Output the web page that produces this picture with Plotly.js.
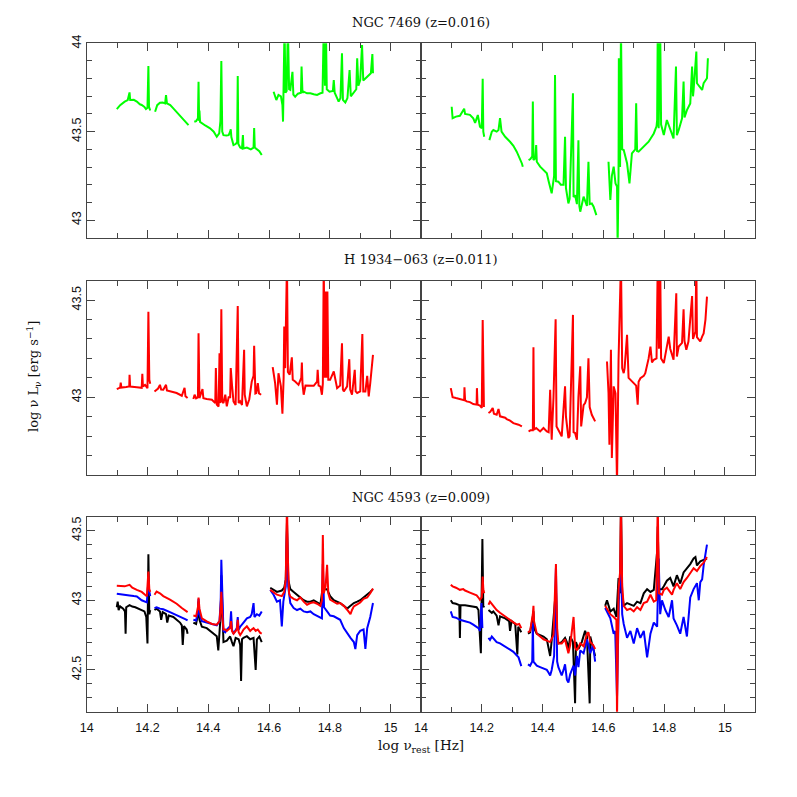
<!DOCTYPE html>
<html>
<head>
<meta charset="utf-8">
<script src="https://cdn.plot.ly/plotly-3.0.1.min.js"></script>
<style>html,body{margin:0;padding:0;background:#fff;}#chart{width:797px;height:797px;}</style>
</head>
<body>
<div id="chart"></div>
<script>
// ---------------- DATA (log nu_rest [Hz], log nu L_nu [erg/s]) ----------------
const rowTitles = ["NGC 7469 (z=0.016)", "H 1934\u2212063 (z=0.011)", "NGC 4593 (z=0.009)"];

// NGC 7469 - left panel (green)
const n7469L_x = [14.099,14.110,14.125,14.135,14.141,14.143,14.155,14.165,14.175,14.181,14.190,14.195,14.200,14.203,14.205,14.209,null,
14.225,14.232,14.241,14.250,14.258,14.261,14.264,14.275,14.285,14.296,14.307,14.315,14.324,14.330,14.335,null,
14.354,14.360,14.366,14.368,14.370,14.371,14.373,14.379,14.390,14.406,14.418,14.428,14.436,14.440,14.443,14.446,14.450,14.460,14.467,14.472,14.474,14.476,14.483,14.490,14.495,14.497,14.499,14.505,14.511,14.514,14.516,14.527,14.540,14.549,14.551,14.553,14.560,14.568,14.576,null,
14.615,14.620,14.624,14.631,14.639,14.644,14.646,14.651,14.654,14.658,14.662,14.666,14.670,14.677,14.680,14.686,14.695,14.705,14.707,14.710,14.714,14.725,14.736,14.747,14.758,14.769,14.776,14.780,14.784,14.787,14.790,14.799,14.810,14.813,14.816,14.824,14.829,14.835,14.840,14.843,14.851,14.858,14.865,14.869,14.879,14.887,14.890,14.894,14.900,14.906,14.910,14.923,14.935,14.940,14.942];
const n7469L_y = [43.628,43.650,43.670,43.679,43.722,43.679,43.680,43.670,43.655,43.651,43.640,43.628,43.635,43.871,43.640,43.620,null,
43.613,43.650,43.664,43.665,43.660,43.707,43.660,43.650,43.632,43.610,43.589,43.575,43.557,43.545,43.537,null,
43.556,43.560,43.575,43.783,43.560,43.620,43.555,43.547,43.535,43.519,43.500,43.471,43.490,43.560,43.900,43.500,43.480,43.478,43.480,43.500,43.513,43.470,43.424,43.430,43.440,43.815,43.430,43.410,43.405,43.481,43.405,43.410,43.400,43.410,43.520,43.410,43.400,43.390,43.368,null,
43.726,43.700,43.679,43.708,43.700,43.650,43.557,44.1,43.720,43.730,44.1,43.740,43.736,43.839,43.710,43.698,43.715,43.720,43.868,43.720,43.726,43.717,43.717,43.712,43.708,43.717,43.720,44.1,43.760,44.1,43.740,43.726,43.730,43.792,43.720,43.690,43.670,43.690,43.943,43.680,43.665,43.690,43.849,43.700,43.726,43.740,43.915,43.760,43.792,43.99,43.790,43.811,43.830,43.939,43.830];

// NGC 7469 - right panel (green)
const n7469R_x = [14.101,14.104,14.115,14.128,14.142,14.145,14.161,14.172,14.178,14.187,14.194,14.200,14.203,14.205,14.208,null,
14.225,14.233,14.238,14.249,14.255,14.260,14.265,14.277,14.293,14.304,14.315,14.325,14.332,14.335,null,
14.354,14.360,14.366,14.368,14.370,14.376,14.379,14.381,14.392,14.403,14.414,14.420,14.425,14.430,14.438,14.441,14.444,14.452,14.460,14.469,14.474,14.477,14.485,14.489,14.500,14.502,14.507,14.513,14.518,14.521,14.524,14.535,14.546,14.551,14.555,14.562,14.568,14.577,null,
14.617,14.620,14.623,14.628,14.634,14.640,14.645,14.647,14.650,14.651,14.655,14.658,14.662,14.667,14.678,14.683,14.686,14.694,14.705,14.708,14.711,14.716,14.733,14.749,14.766,14.775,14.777,14.779,14.782,14.787,14.790,14.799,14.809,14.820,14.831,14.839,14.842,14.848,14.859,14.864,14.867,14.875,14.886,14.892,14.895,14.897,14.906,14.908,14.919,14.925,14.930,14.941,14.944];
const n7469R_y = [43.641,43.576,43.585,43.590,43.630,43.600,43.595,43.575,43.550,43.594,43.528,43.520,43.800,43.500,43.471,null,
43.452,43.500,43.509,43.500,43.509,43.576,43.500,43.471,43.443,43.420,43.387,43.350,43.320,43.302,null,
43.339,43.345,43.360,43.670,43.340,43.349,43.424,43.330,43.302,43.285,43.264,43.220,43.190,43.151,43.250,43.820,43.220,43.217,43.200,43.200,43.471,43.180,43.094,43.120,43.717,43.130,43.141,43.090,43.452,43.080,43.047,43.132,43.080,43.330,43.090,43.094,43.075,43.028,null,
43.330,43.226,43.113,43.250,43.302,43.207,43.190,42.85,43.250,43.915,43.300,44.1,43.400,43.396,43.321,43.250,43.207,43.377,43.400,43.660,43.390,43.387,43.415,43.443,43.490,43.530,43.566,44.1,43.520,44.1,43.540,43.481,43.566,43.509,43.462,43.868,43.480,43.509,43.576,43.783,43.580,43.622,43.660,43.868,43.700,43.736,43.953,43.774,43.750,43.736,43.774,43.802,43.915];

// H 1934-063 - left panel (red)
const h1934L_x = [14.099,14.110,14.112,14.114,14.130,14.140,14.141,14.143,14.165,14.181,14.183,14.185,14.192,14.200,14.203,14.206,14.209,null,
14.223,14.230,14.235,14.241,14.245,14.252,14.261,14.264,14.274,14.296,14.313,14.322,14.325,14.332,null,
14.351,14.355,14.360,14.366,14.368,14.371,14.381,14.384,14.395,14.412,14.423,14.425,14.428,14.434,14.437,14.440,14.443,14.446,14.450,14.456,14.461,14.467,14.472,14.474,14.478,14.483,14.490,14.497,14.500,14.505,14.511,14.518,14.520,14.527,14.535,14.543,14.549,14.551,14.555,14.558,14.563,14.567,14.574,null,
14.612,14.620,14.626,14.631,14.639,14.644,14.648,14.650,14.653,14.659,14.662,14.668,14.675,14.678,14.686,14.697,14.706,14.708,14.710,14.714,14.720,14.730,14.747,14.758,14.760,14.763,14.769,14.774,14.777,14.780,14.783,14.787,14.789,14.792,14.795,14.801,14.813,14.824,14.834,14.840,14.843,14.846,14.857,14.864,14.867,14.873,14.882,14.885,14.890,14.900,14.907,14.910,14.917,14.923,14.925,14.928,14.933,14.942];
const h1934L_y = [43.042,43.050,43.075,43.050,43.053,43.056,43.116,43.055,43.052,43.049,43.121,43.056,43.064,43.047,43.440,43.090,43.070,null,
43.030,43.039,43.045,43.064,43.040,43.039,43.064,43.035,43.030,43.022,43.008,43.049,43.005,42.996,null,
42.991,43.013,42.995,43.000,43.329,42.996,43.042,42.995,42.991,42.987,42.970,43.150,42.962,42.953,43.227,42.970,43.453,42.980,42.970,43.013,42.953,43.000,43.000,43.150,43.064,42.979,42.960,43.470,42.970,42.979,42.960,43.244,43.013,42.953,42.990,43.080,43.110,43.265,43.020,43.022,43.073,43.020,43.013,null,
43.155,43.073,42.962,43.124,43.056,42.916,43.100,43.364,43.150,43.7,43.130,43.116,43.206,43.090,43.081,43.064,43.100,43.179,43.070,43.013,43.060,43.059,43.059,43.080,43.141,43.060,43.056,43.013,43.070,43.7,43.100,43.544,43.100,43.544,43.090,43.090,43.133,43.047,43.060,43.278,43.040,43.030,43.056,43.196,43.040,43.013,43.141,43.030,43.022,43.030,43.326,43.030,43.030,43.110,43.030,43.005,43.073,43.218];

// H 1934-063 - right panel (red)
const h1934R_x = [14.098,14.104,14.115,14.128,14.142,14.143,14.145,14.150,14.161,14.172,14.183,14.184,14.186,14.194,14.200,14.203,14.205,14.207,null,
14.222,14.228,14.236,14.240,14.249,14.255,14.260,14.277,14.282,14.293,14.304,14.315,14.321,14.332,null,
14.354,14.360,14.368,14.370,14.372,14.376,14.379,14.392,14.403,14.414,14.420,14.425,14.428,14.430,14.436,14.438,14.443,14.446,14.452,14.463,14.474,14.477,14.485,14.489,14.500,14.502,14.507,14.513,14.518,14.524,14.527,14.535,14.540,14.546,14.551,14.555,14.562,14.566,14.573,null,
14.612,14.617,14.620,14.623,14.625,14.628,14.634,14.640,14.645,14.650,14.658,14.662,14.667,14.670,14.678,14.683,14.689,14.700,14.708,14.713,14.716,14.722,14.733,14.738,14.749,14.755,14.760,14.766,14.775,14.779,14.783,14.787,14.790,14.799,14.809,14.815,14.820,14.831,14.840,14.842,14.848,14.859,14.864,14.867,14.873,14.880,14.892,14.895,14.903,14.906,14.908,14.919,14.925,14.930,14.936,14.941];
const h1934R_y = [43.047,43.001,42.996,42.991,42.985,43.051,42.985,42.979,42.975,42.965,42.962,43.047,42.962,42.957,42.945,43.398,42.990,42.950,null,
42.919,42.925,42.945,42.915,42.910,42.940,42.902,42.895,42.888,42.880,42.867,42.862,42.859,42.850,null,
42.824,42.830,42.830,43.258,42.833,42.842,42.842,42.824,42.842,42.824,42.820,43.039,42.790,42.782,43.000,43.141,43.402,42.850,42.833,42.799,43.056,42.900,42.790,42.800,43.424,42.820,42.816,42.782,43.000,43.159,42.850,42.960,42.970,43.000,43.201,42.950,42.910,42.900,42.876,null,
43.184,43.022,42.756,43.000,43.244,42.688,43.056,43.020,42.55,43.193,43.7,43.150,43.124,43.150,43.321,43.100,43.090,43.073,43.060,42.962,43.080,43.098,43.110,43.124,43.200,43.261,43.180,43.193,43.200,43.7,43.250,43.7,43.200,43.176,43.261,43.312,43.250,43.193,43.535,43.210,43.261,43.280,43.453,43.290,43.244,43.287,43.521,43.300,43.338,43.7,43.310,43.287,43.312,43.329,43.400,43.518];

// NGC 4593 - left panel
const n4593L_red_x = [14.099,14.110,14.125,14.141,14.150,14.165,14.181,14.192,14.198,14.203,14.206,14.209,null,
14.223,14.230,14.241,14.252,14.274,14.296,14.313,14.324,14.332,null,
14.351,14.360,14.366,14.368,14.371,14.379,14.395,14.412,14.428,14.437,14.441,14.443,14.446,14.450,14.456,14.461,14.472,14.475,14.478,14.483,14.494,14.497,14.500,14.505,14.511,14.516,14.527,14.538,14.543,14.549,14.556,14.563,14.571,14.576,null,
14.604,14.615,14.626,14.642,14.650,14.655,14.659,14.662,14.666,14.670,14.681,14.692,14.703,14.714,14.725,14.736,14.747,14.758,14.769,14.774,14.777,14.780,14.786,14.791,14.795,14.801,14.813,14.824,14.834,14.846,14.857,14.868,14.873,14.879,14.890,14.900,14.911,14.923,14.933,14.942];
const n4593L_red_y = [43.104,43.104,43.100,43.111,43.090,43.075,43.060,43.040,43.030,43.207,43.080,43.060,null,
43.040,43.063,43.050,43.030,43.004,42.975,42.944,42.930,42.915,null,
42.890,42.885,42.950,43.020,42.940,42.870,42.849,42.830,42.825,42.850,42.960,43.060,42.900,42.790,42.790,42.780,42.801,42.850,42.780,42.760,42.790,42.860,42.770,42.750,42.770,42.790,42.813,42.780,42.790,42.800,42.780,42.790,42.766,42.760,null,
43.075,43.060,43.040,43.030,43.060,43.150,43.7,43.300,43.050,43.027,43.010,43.000,43.020,42.990,42.968,42.980,42.985,42.975,42.960,43.000,43.469,43.050,43.100,43.254,43.050,43.004,42.990,42.975,42.980,42.960,42.932,42.900,42.930,42.956,42.970,42.985,43.010,43.020,43.050,43.085];

const n4593L_blue_x = [14.099,14.110,14.125,14.141,14.155,14.165,14.181,14.192,14.198,14.202,14.206,14.209,null,
14.223,14.230,14.241,14.252,14.274,14.296,14.313,14.324,14.332,null,
14.351,14.360,14.366,14.368,14.371,14.379,14.395,14.412,14.428,14.437,14.441,14.443,14.446,14.450,14.456,14.461,14.472,14.475,14.478,14.483,14.494,14.497,14.500,14.505,14.516,14.527,14.538,14.543,14.549,14.552,14.560,14.568,14.576,null,
14.604,14.615,14.626,14.636,14.642,14.647,14.655,14.659,14.663,14.670,14.681,14.692,14.703,14.714,14.725,14.736,14.747,14.758,14.769,14.774,14.777,14.781,14.791,14.801,14.813,14.824,14.834,14.846,14.857,14.868,14.879,14.884,14.890,14.900,14.911,14.917,14.923,14.933,14.942];
const n4593L_blue_y = [43.047,43.045,43.040,43.035,43.030,43.027,43.000,42.990,42.985,43.111,43.040,43.030,null,
42.944,42.950,42.940,42.935,42.915,42.895,42.880,42.865,42.855,null,
42.860,42.855,42.920,43.010,42.900,42.850,42.840,42.830,42.820,42.850,43.000,43.290,43.000,42.780,42.770,42.790,42.813,42.920,42.790,42.760,42.800,42.880,42.790,42.810,42.840,42.870,42.880,42.900,42.980,42.880,42.900,42.890,42.920,null,
43.075,43.040,42.990,43.000,42.813,42.990,43.100,43.500,43.100,42.980,42.944,42.930,42.940,42.920,42.915,42.920,42.900,42.890,42.880,42.870,43.260,42.950,42.920,42.890,42.885,42.870,42.860,42.800,42.760,42.730,42.700,42.650,42.750,42.780,42.790,42.650,42.800,42.880,42.980];

const n4593L_black_x = [14.099,14.102,14.105,14.110,14.120,14.126,14.128,14.130,14.141,14.150,14.160,14.170,14.181,14.190,14.196,14.200,14.203,14.206,14.209,null,
14.223,14.230,14.241,14.245,14.250,14.261,14.265,14.270,14.285,14.296,14.307,14.313,14.316,14.320,14.329,14.332,null,
14.351,14.360,14.366,14.368,14.371,14.379,14.395,14.406,14.420,14.428,14.433,14.437,14.441,14.443,14.446,14.450,14.461,14.472,14.478,14.483,14.490,14.500,14.505,14.508,14.511,14.516,14.527,14.538,14.549,14.556,14.560,14.568,14.576,null,
14.604,14.615,14.626,14.642,14.650,14.655,14.659,14.663,14.670,14.681,14.692,14.703,14.714,14.725,14.736,14.747,14.758,14.769,14.777,14.786,14.791,14.801,14.813,14.824,14.834,14.846,14.857,14.868,14.879,14.890,14.900,14.911,14.923,14.933,14.942];
const n4593L_black_y = [42.950,42.990,42.930,42.956,42.940,42.920,42.760,42.950,42.965,42.955,42.950,42.940,42.930,42.920,42.880,42.690,43.330,42.900,42.930,null,
42.930,42.940,42.920,42.860,42.915,42.900,42.840,42.890,42.880,42.860,42.840,42.820,42.680,42.815,42.790,42.760,null,
42.840,42.830,42.900,42.990,42.860,42.810,42.800,42.780,42.760,42.742,42.640,42.760,42.900,43.180,42.900,42.700,42.710,42.740,42.700,42.670,42.730,42.720,42.680,42.420,42.720,42.730,42.742,42.720,42.730,42.500,42.720,42.740,42.700,null,
43.090,43.075,43.060,43.070,43.090,43.150,43.560,43.150,43.080,43.060,43.040,43.020,43.000,42.990,42.990,43.000,42.985,42.970,43.100,43.080,43.080,43.030,43.000,42.990,42.980,42.960,42.940,42.960,42.980,42.990,43.000,43.020,43.040,43.060,43.080];

// NGC 4593 - right panel
const n4593R_red_x = [14.098,14.104,14.115,14.128,14.139,14.145,14.161,14.172,14.183,14.189,14.194,14.200,14.203,14.205,14.208,null,
14.222,14.227,14.238,14.249,14.260,14.277,14.293,14.304,14.315,14.323,14.330,null,
14.352,14.359,14.368,14.370,14.372,14.381,14.392,14.403,14.414,14.425,14.436,14.444,14.448,14.452,14.463,14.474,14.477,14.485,14.491,14.502,14.507,14.513,14.524,14.535,14.546,14.551,14.557,14.566,14.573,null,
14.606,14.612,14.623,14.634,14.643,14.645,14.647,14.650,14.655,14.658,14.662,14.667,14.678,14.689,14.700,14.711,14.722,14.733,14.744,14.755,14.766,14.774,14.779,14.783,14.793,14.799,14.809,14.820,14.826,14.831,14.842,14.853,14.864,14.875,14.886,14.897,14.908,14.919,14.930,14.941];
const n4593R_red_y = [43.111,43.100,43.090,43.075,43.080,43.070,43.055,43.045,43.035,43.020,43.004,43.020,43.170,43.080,43.050,null,
42.968,42.990,42.960,42.930,42.910,42.885,42.860,42.840,42.825,42.830,42.800,null,
42.770,42.780,42.900,42.960,42.850,42.760,42.740,42.720,42.710,42.700,42.750,43.260,42.800,42.690,42.690,42.720,42.690,42.620,42.680,42.880,42.660,42.640,42.690,42.670,42.760,42.770,42.700,42.680,42.650,null,
42.960,42.940,42.900,42.880,42.860,42.150,42.880,43.080,43.200,43.7,43.100,42.960,42.930,42.940,42.920,42.950,42.930,42.980,42.990,43.040,42.990,43.000,43.7,43.050,43.040,43.075,43.090,43.060,43.040,43.075,43.123,43.080,43.130,43.160,43.200,43.230,43.210,43.245,43.270,43.311];

const n4593R_blue_x = [14.098,14.104,14.115,14.128,14.145,14.161,14.172,14.183,14.189,14.194,14.199,14.202,null,
14.222,14.227,14.233,14.249,14.260,14.277,14.293,14.304,14.315,14.321,14.330,null,
14.352,14.359,14.366,14.368,14.370,14.381,14.392,14.403,14.414,14.420,14.425,14.430,14.438,14.444,14.448,14.452,14.463,14.469,14.474,14.480,14.485,14.491,14.502,14.507,14.513,14.518,14.524,14.535,14.546,14.557,14.566,14.573,null,
14.606,14.612,14.623,14.634,14.639,14.645,14.648,14.651,14.658,14.662,14.667,14.678,14.689,14.700,14.711,14.722,14.733,14.744,14.755,14.766,14.777,14.782,14.787,14.793,14.804,14.815,14.826,14.831,14.842,14.853,14.864,14.875,14.886,14.897,14.908,14.914,14.919,14.925,14.930,14.936,14.941];
const n4593R_blue_y = [42.920,42.880,42.875,42.860,42.850,42.840,42.825,42.810,42.800,42.780,42.980,42.800,null,
42.730,42.715,42.740,42.700,42.690,42.670,42.645,42.630,42.600,42.590,42.527,null,
42.540,42.530,42.560,42.840,42.560,42.530,42.520,42.510,42.500,42.480,42.460,42.500,42.600,43.230,42.560,42.520,42.460,42.500,42.540,42.430,42.410,42.470,42.530,42.460,42.600,42.520,42.640,42.620,42.720,42.620,42.680,42.560,null,
42.944,42.920,42.870,42.760,42.780,42.300,42.850,42.990,43.330,42.900,42.830,42.730,42.780,42.690,42.800,42.730,42.780,42.590,42.760,42.840,42.810,43.300,42.900,43.000,42.930,42.880,43.000,42.870,42.820,42.760,42.880,42.740,43.020,43.080,43.123,43.000,43.130,43.150,43.250,43.320,43.400];

const n4593R_black_x = [14.098,14.104,14.115,14.126,14.128,14.130,14.145,14.161,14.172,14.183,14.189,14.197,14.199,14.202,14.205,14.208,null,
14.222,14.233,14.238,14.249,14.255,14.260,14.277,14.290,14.293,14.298,14.310,14.317,14.320,14.330,null,
14.352,14.359,14.368,14.370,14.372,14.381,14.392,14.403,14.414,14.425,14.430,14.444,14.448,14.452,14.463,14.474,14.480,14.485,14.491,14.500,14.507,14.510,14.518,14.529,14.540,14.546,14.555,14.557,14.566,14.573,null,
14.606,14.612,14.623,14.634,14.643,14.650,14.655,14.658,14.662,14.667,14.678,14.689,14.700,14.711,14.722,14.733,14.744,14.755,14.766,14.777,14.779,14.783,14.793,14.799,14.809,14.820,14.831,14.842,14.853,14.864,14.875,14.886,14.897,14.903,14.908,14.919,14.930,14.941];
const n4593R_black_y = [43.000,42.980,42.975,42.965,42.730,42.965,42.965,42.960,42.955,42.950,42.930,42.620,42.950,43.440,42.950,42.960,null,
42.930,42.910,42.920,42.890,42.820,42.885,42.870,42.850,42.780,42.850,42.830,42.610,42.810,42.770,null,
42.760,42.770,42.880,42.920,42.800,42.760,42.750,42.740,42.720,42.600,42.710,43.080,42.720,42.690,42.700,42.730,42.700,42.650,42.740,42.700,42.260,42.700,42.650,42.700,42.780,42.740,42.260,42.740,42.660,42.600,null,
42.960,43.000,42.920,42.940,42.880,43.160,43.050,43.7,43.050,42.960,42.980,42.970,42.960,42.990,42.980,43.050,43.080,43.060,43.075,43.350,43.530,43.080,43.080,43.100,43.140,43.160,43.100,43.180,43.120,43.200,43.230,43.260,43.300,43.310,43.250,43.280,43.290,43.300];

// ---------------- LAYOUT HELPERS ----------------
const W = 797, H = 797;
const colX = [[86.7, 421], [421, 755.3]];
const rowY = [[43.3, 237.7], [280.7, 475], [516.7, 711.7]];
const yRanges = [[42.9, 44.0], [42.6, 43.6], [42.2, 43.6]];
const xRange = [14, 15.1];

function dom(a, b, total) { return [a / total, b / total]; }
function ydom(top, bot) { return [1 - bot / H, 1 - top / H]; }

const traces = [];
function addLine(x, y, color, idx) {
  const s = idx === 1 ? '' : String(idx);
  traces.push({
    type: 'scatter', mode: 'lines', x: x, y: y,
    xaxis: 'x' + s, yaxis: 'y' + s,
    line: { color: color, width: 2 },
    connectgaps: false, hoverinfo: 'skip', showlegend: false
  });
}

addLine(n7469L_x, n7469L_y, '#00ff00', 1);
addLine(n7469R_x, n7469R_y, '#00ff00', 2);
addLine(h1934L_x, h1934L_y, '#ff0000', 3);
addLine(h1934R_x, h1934R_y, '#ff0000', 4);
addLine(n4593L_black_x, n4593L_black_y, '#000000', 5);
addLine(n4593L_blue_x, n4593L_blue_y, '#0000ff', 5);
addLine(n4593L_red_x, n4593L_red_y, '#ff0000', 5);
addLine(n4593R_black_x, n4593R_black_y, '#000000', 6);
addLine(n4593R_blue_x, n4593R_blue_y, '#0000ff', 6);
addLine(n4593R_red_x, n4593R_red_y, '#ff0000', 6);

const frameColor = '#444';
const tickFont = { family: 'Liberation Sans, Arial, sans-serif', size: 12.5, color: '#111' };

const layout = {
  width: W, height: H,
  margin: { l: 0, r: 0, t: 0, b: 0 },
  paper_bgcolor: '#fff', plot_bgcolor: '#fff',
  showlegend: false,
  annotations: []
};

for (let r = 0; r < 3; r++) {
  for (let c = 0; c < 2; c++) {
    const idx = r * 2 + c + 1;
    const s = idx === 1 ? '' : String(idx);
    layout['xaxis' + s] = {
      domain: dom(colX[c][0], colX[c][1], W),
      anchor: 'y' + s,
      range: xRange, tick0: 14, dtick: 0.2,
      ticks: 'inside', ticklen: 8, tickwidth: 1, tickcolor: frameColor,
      minor: { tick0: 14, dtick: 0.1, ticks: 'inside', ticklen: 5, tickcolor: frameColor, showgrid: false },
      showline: true, linecolor: frameColor, linewidth: 1, mirror: 'ticks',
      showgrid: false, zeroline: false,
      showticklabels: r === 2, tickfont: tickFont, ticklabelstandoff: 4
    };
    layout['yaxis' + s] = {
      domain: ydom(rowY[r][0], rowY[r][1]),
      anchor: 'x' + s,
      range: yRanges[r], tick0: 43, dtick: 0.5,
      ticks: 'inside', ticklen: 8, tickwidth: 1, tickcolor: frameColor,
      minor: { tick0: 43, dtick: 0.1, ticks: 'inside', ticklen: 5, tickcolor: frameColor, showgrid: false },
      showline: true, linecolor: frameColor, linewidth: 1, mirror: 'ticks',
      showgrid: false, zeroline: false,
      showticklabels: c === 0, tickangle: -90, tickfont: tickFont
    };
  }
  layout.annotations.push({
    text: rowTitles[r], xref: 'paper', yref: 'paper',
    x: 421 / W, y: 1 - ([23, 260, 497][r]) / H,
    xanchor: 'center', yanchor: 'middle', showarrow: false,
    font: { family: 'DejaVu Serif, serif', size: 13, color: '#111' }
  });
}

layout.annotations.push({
  text: 'log \u03bd<sub>rest</sub> [Hz]', xref: 'paper', yref: 'paper',
  x: 421 / W, y: 1 - 746 / H, xanchor: 'center', yanchor: 'middle', showarrow: false,
  font: { family: 'DejaVu Serif, serif', size: 13.5, color: '#111' }
});
layout.annotations.push({
  text: 'log \u03bd L<sub>\u03bd</sub> [erg s<sup>\u22121</sup>]', xref: 'paper', yref: 'paper',
  x: 34 / W, y: 1 - 377 / H, xanchor: 'center', yanchor: 'middle', showarrow: false, textangle: -90,
  font: { family: 'DejaVu Serif, serif', size: 13, color: '#111' }
});

Plotly.newPlot('chart', traces, layout, { staticPlot: true, displayModeBar: false });
</script>
</body>
</html>
